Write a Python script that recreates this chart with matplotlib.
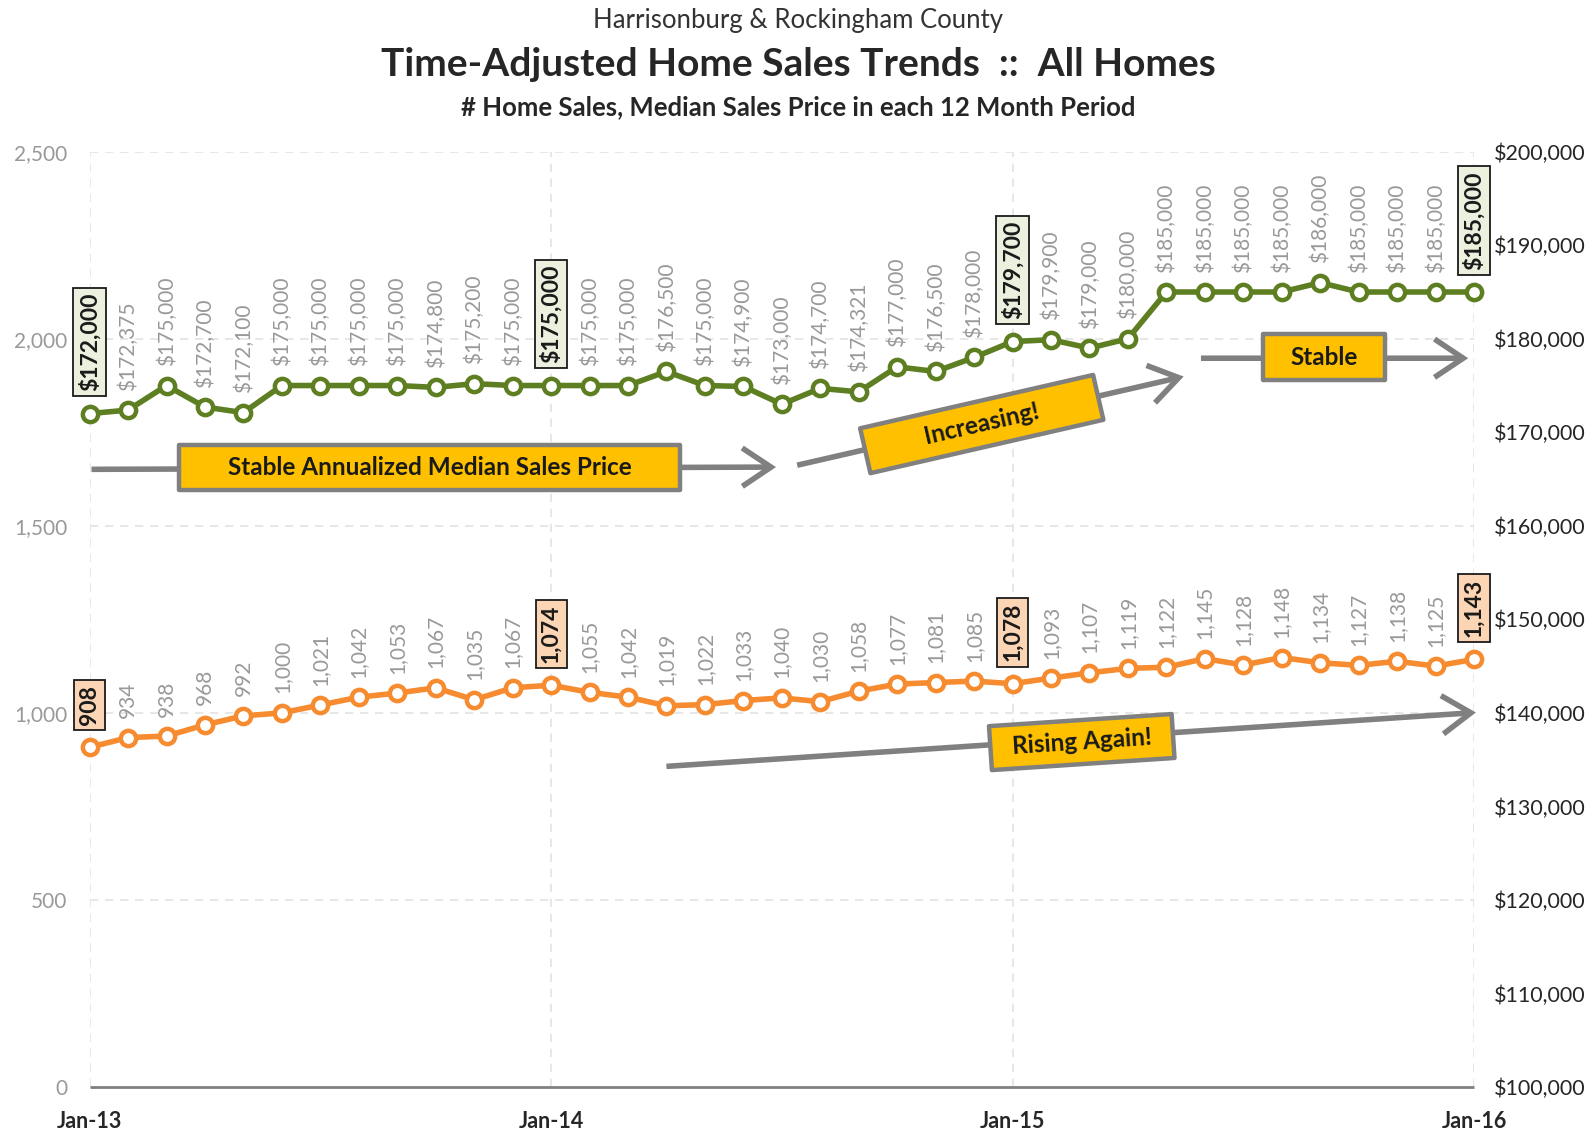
import matplotlib
matplotlib.use("Agg")
import matplotlib.pyplot as plt
from matplotlib.patches import Rectangle
from matplotlib.transforms import Affine2D
from matplotlib.ticker import FuncFormatter

plt.rcParams['font.family'] = ['Lato', 'DejaVu Sans']

# ---------------- data ----------------
months = ['Jan-13', 'Feb-13', 'Mar-13', 'Apr-13', 'May-13', 'Jun-13', 'Jul-13', 'Aug-13', 'Sep-13', 'Oct-13',
          'Nov-13', 'Dec-13', 'Jan-14', 'Feb-14', 'Mar-14', 'Apr-14', 'May-14', 'Jun-14', 'Jul-14', 'Aug-14',
          'Sep-14', 'Oct-14', 'Nov-14', 'Dec-14', 'Jan-15', 'Feb-15', 'Mar-15', 'Apr-15', 'May-15', 'Jun-15',
          'Jul-15', 'Aug-15', 'Sep-15', 'Oct-15', 'Nov-15', 'Dec-15', 'Jan-16']
median_price = [172000, 172375, 175000, 172700, 172100, 175000, 175000, 175000, 175000, 174800,
                175200, 175000, 175000, 175000, 175000, 176500, 175000, 174900, 173000, 174700,
                174321, 177000, 176500, 178000, 179700, 179900, 179000, 180000, 185000, 185000,
                185000, 185000, 186000, 185000, 185000, 185000, 185000]
home_sales = [908, 934, 938, 968, 992, 1000, 1021, 1042, 1053, 1067,
              1035, 1067, 1074, 1055, 1042, 1019, 1022, 1033, 1040, 1030,
              1058, 1077, 1081, 1085, 1078, 1093, 1107, 1119, 1122, 1145,
              1128, 1148, 1134, 1127, 1138, 1125, 1143]
highlight_idx = [0, 12, 24, 36]
xtick_idx = [0, 12, 24, 36]
left_ticks = [0, 500, 1000, 1500, 2000, 2500]
right_ticks = [100000, 110000, 120000, 130000, 140000, 150000, 160000, 170000, 180000, 190000, 200000]

title_top = 'Harrisonburg & Rockingham County'
title_main = 'Time-Adjusted Home Sales Trends  ::  All Homes'
title_sub = '# Home Sales, Median Sales Price in each 12 Month Period'

# annotation callouts: (text, arrow start (x, sales-y), arrow end, box center, box w px, box h px, angle)
callouts = [
    ('Stable Annualized Median Sales Price', (0.05, 1651), (17.85, 1657), (8.84, 1657), 501, 45, 0),
    ('Increasing!', (18.4, 1662), (28.45, 1899), (23.2, 1772), 239, 46, 12.9),
    ('Stable', (28.9, 1948), (35.85, 1948), (32.1, 1950), 122, 46, 0),
    ('Rising Again!', (15.0, 857), (36.05, 1001), (25.8, 922), 183, 44, 3.8),
]

GREEN = '#5E7E22'
ORANGE = '#F68B2F'
GREY_TXT = '#999999'

# ---------------- figure ----------------
W, H = 1596, 1131
fig = plt.figure(figsize=(W / 100, H / 100), dpi=100)
left_px, right_px, top_px, bot_px = 89.6, 1474, 151.7, 1087
ax = fig.add_axes([left_px / W, 1 - bot_px / H, (right_px - left_px) / W, (bot_px - top_px) / H])
ax2 = ax.twinx()

x = list(range(len(months)))
ax.set_xlim(0, len(months) - 1)
ax.set_ylim(0, 2500)
ax2.set_ylim(100000, 200000)

# grid
for yv in left_ticks[1:]:
    ax.axhline(yv, color='#E3E3E3', lw=1.2, ls=(0, (5, 4)), zorder=0)
for xv in xtick_idx:
    ax.axvline(xv, color='#E3E3E3', lw=1.2, ls=(0, (5, 4)), zorder=0)

for a in (ax, ax2):
    for s in a.spines.values():
        s.set_visible(False)
ax.spines['bottom'].set_visible(True)
ax.spines['bottom'].set_color('#808080')
ax.spines['bottom'].set_linewidth(2)
ax.spines['bottom'].set_capstyle('butt')

ax.set_xticks(xtick_idx)
ax.set_xticklabels([months[i] for i in xtick_idx], fontsize=15.5, fontweight='bold', color='#262626')
ax.tick_params(axis='x', length=0, pad=17)
ax.set_yticks(left_ticks)
ax.yaxis.set_major_formatter(FuncFormatter(lambda v, p: f'{int(v):,}'))
ax.tick_params(axis='y', length=0, pad=16, labelsize=15, labelcolor=GREY_TXT)
ax2.set_yticks(right_ticks)
ax2.yaxis.set_major_formatter(FuncFormatter(lambda v, p: f'${int(v):,}'))
ax2.tick_params(axis='y', length=0, pad=14, labelsize=15.5, labelcolor='#262626')

# lines
ax.plot(x, home_sales, color=ORANGE, lw=4, marker='o', ms=11, mfc='white', mec=ORANGE, mew=3.2,
        zorder=5, clip_on=False)
ax2.plot(x, median_price, color=GREEN, lw=4, marker='o', ms=11, mfc='white', mec=GREEN, mew=3.2,
         zorder=5, clip_on=False)

# data labels
for i in x:
    if i in highlight_idx:
        ax.annotate(f'{home_sales[i]:,}', (i, home_sales[i]), xytext=(0, 16), textcoords='offset points',
                    rotation=90, ha='center', va='bottom', fontsize=16.5, fontweight='bold', color='#1a1a1a',
                    bbox=dict(boxstyle='square,pad=0.22', fc='#FCD5B5', ec='#1a1a1a', lw=1.3), zorder=8)
        ax2.annotate(f'${median_price[i]:,}', (i, median_price[i]), xytext=(0, 16), textcoords='offset points',
                     rotation=90, ha='center', va='bottom', fontsize=16.5, fontweight='bold', color='#1a1a1a',
                     bbox=dict(boxstyle='square,pad=0.22', fc='#EBF1DE', ec='#1a1a1a', lw=1.3), zorder=8)
    else:
        ax.annotate(f'{home_sales[i]:,}', (i, home_sales[i]), xytext=(0, 14), textcoords='offset points',
                    rotation=90, ha='center', va='bottom', fontsize=15, color=GREY_TXT, zorder=6)
        ax2.annotate(f'${median_price[i]:,}', (i, median_price[i]), xytext=(0, 14), textcoords='offset points',
                     rotation=90, ha='center', va='bottom', fontsize=15, color=GREY_TXT, zorder=6)

# callouts
for text, start, end, center, bw, bh, ang in callouts:
    ax2.annotate('', xy=end, xytext=start, xycoords=ax.transData, textcoords=ax.transData,
                 arrowprops=dict(arrowstyle='->,head_length=0.9,head_width=0.6', lw=4, color='#808080',
                                 shrinkA=0, shrinkB=0, mutation_scale=23, joinstyle='miter', capstyle='butt'),
                 zorder=9, annotation_clip=False)
    cx, cy = ax.transData.transform(center)
    rect = Rectangle((cx - bw / 2, cy - bh / 2), bw, bh, fc='#FFC000', ec='#808080', lw=3.2,
                     transform=Affine2D().rotate_deg_around(cx, cy, ang), zorder=10, joinstyle='round')
    ax2.add_artist(rect)
    ax2.text(center[0], center[1], text, transform=ax.transData, rotation=ang, rotation_mode='anchor',
             ha='center', va='center', fontsize=17.5, fontweight='bold', color='#1a1a1a', zorder=11)

# titles
fig.text(0.5, 1 - 20.5 / H, title_top, ha='center', va='center', fontsize=18.5, color='#333333')
fig.text(0.5, 1 - 64 / H, title_main, ha='center', va='center', fontsize=28, fontweight='bold', color='#262626')
fig.text(0.5, 1 - 107 / H, title_sub, ha='center', va='center', fontsize=18.5, fontweight='bold', color='#262626')

fig.savefig('out.png', dpi=100)
